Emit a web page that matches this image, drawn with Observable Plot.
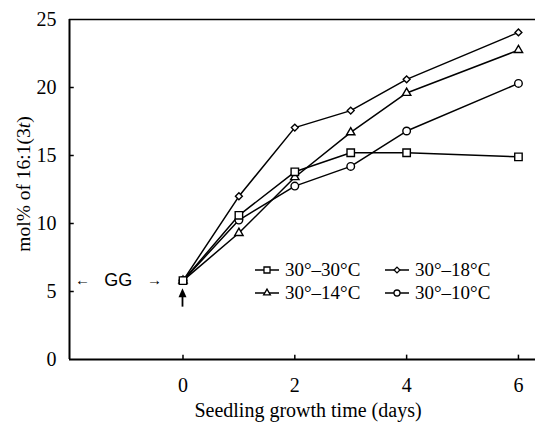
<!DOCTYPE html>
<html><head><meta charset="utf-8">
<script src="https://cdn.jsdelivr.net/npm/d3@7"></script>
<script src="https://cdn.jsdelivr.net/npm/@observablehq/plot@0.6"></script>
<style>body{margin:0;background:#fff} #chart{width:535px;height:428px}</style>
</head><body><div id="chart"></div>
<script>
// ---- data ----
const days = [0, 1, 2, 3, 4, 6];
const seriesNames = ["30°–30°C", "30°–18°C", "30°–14°C", "30°–10°C"];
const seriesSymbols = ["square", "diamond2", "triangle", "circle"];
const t30 = [5.8, 10.6, 13.8, 15.2, 15.2, 14.9];
const t18 = [5.8, 12.0, 17.05, 18.3, 20.6, 24.05];
const t14 = [5.8, 9.3, 13.4, 16.7, 19.6, 22.75];
const t10 = [5.8, 10.25, 12.75, 14.2, 16.8, 20.3];
const xTicks = [0, 2, 4, 6];
const yTicks = [0, 5, 10, 15, 20, 25];
const xTitle = "Seedling growth time (days)";
const ggLabel = ["←", "GG", "→"];
const ggX = [-1.79, -1.15, -0.5];
const ggY = 5.8;
const arrowDay = 0, arrowFrom = 3.85, arrowTo = 5.2;

const xMin = -2.03, xMax = 6.305;
const allValues = [t30, t18, t14, t10];
const rows = [];
seriesNames.forEach((s, i) => days.forEach((d, j) => rows.push({series: s, symbol: seriesSymbols[i], day: d, value: allValues[i][j]})));
const rSize = {square: 4.2, diamond2: 3.1, triangle: 3.1, circle: 3.8};
const drawOrder = ["circle", "triangle", "diamond2", "square"];

const plot = Plot.plot({
  width: 535, height: 428,
  marginLeft: 69, marginRight: 0, marginTop: 19, marginBottom: 69,
  x: {domain: [xMin, xMax]},
  y: {domain: [0, 25]},
  style: {fontFamily: "'Liberation Serif', 'Times New Roman', serif", fontSize: "20px", color: "black", background: "white"},
  marks: [
    Plot.axisX(xTicks, {tickSize: 0, tickPadding: 18, label: null, fontSize: 20}),
    Plot.axisY(yTicks, {tickSize: 0, tickPadding: 13, label: null, fontSize: 20}),
    Plot.ruleY(yTicks.slice(1, 5), {x1: xMin, x2: xMin + 0.085, stroke: "black", strokeWidth: 1.5}),
    Plot.ruleX(xTicks, {y1: 0, y2: 0.32, stroke: "black", strokeWidth: 1.5}),
    Plot.ruleX([xMin], {y1: 0, y2: 25, stroke: "black", strokeWidth: 2}),
    Plot.ruleY([0], {stroke: "black", strokeWidth: 2}),
    Plot.ruleY([25], {stroke: "black", strokeWidth: 1.6}),
    Plot.line(rows, {x: "day", y: "value", z: "series", stroke: "black", strokeWidth: 1.5}),
    ...drawOrder.map(sym => Plot.dot(rows.filter(r => r.symbol === sym), {
      x: "day", y: "value", symbol: sym, r: rSize[sym], fill: "white", stroke: "black", strokeWidth: 1.4
    }))
  ]
});
document.getElementById("chart").appendChild(plot);

const sx = plot.scale("x"), sy = plot.scale("y");
const svg = d3.select(plot);
const serif = "'Liberation Serif', 'Times New Roman', serif";

// x title
svg.append("text").attr("x", 308).attr("y", 417).attr("text-anchor", "middle")
  .attr("font-family", serif).attr("font-size", 20).attr("fill", "black").text(xTitle);

// y title with italic t
const yt = svg.append("text").attr("transform", "translate(30,184) rotate(-90)")
  .attr("text-anchor", "middle").attr("font-family", serif).attr("font-size", 19.5).attr("fill", "black");
yt.append("tspan").text("mol% of 16:1(3");
yt.append("tspan").attr("font-style", "italic").text("t");
yt.append("tspan").text(")");

// GG annotation
ggLabel.forEach((g, i) => {
  svg.append("text").attr("x", sx.apply(ggX[i])).attr("y", sy.apply(ggY)).attr("dy", "0.35em")
    .attr("text-anchor", "middle").attr("font-family", "'Liberation Sans', Arial, sans-serif")
    .attr("font-size", g === "GG" ? 18 : 15).attr("fill", "black").text(g);
});

// up arrow under day 0
const ax = sx.apply(arrowDay), ay1 = sy.apply(arrowFrom), ay2 = sy.apply(arrowTo);
svg.append("line").attr("x1", ax).attr("x2", ax).attr("y1", ay1).attr("y2", ay2 + 5)
  .attr("stroke", "black").attr("stroke-width", 1.8);
svg.append("path").attr("d", `M${ax},${ay2} L${ax - 4},${ay2 + 9} L${ax + 4},${ay2 + 9} Z`).attr("fill", "black");

// legend
const legPos = [[255, 270], [385, 270], [255, 293], [385, 293]];
const symMap = {square: d3.symbolSquare, diamond2: d3.symbolDiamond2, triangle: d3.symbolTriangle, circle: d3.symbolCircle};
const legR = {square: 3.4, diamond2: 2.6, triangle: 2.5, circle: 3.0};
seriesNames.forEach((name, i) => {
  const [lx, ly] = legPos[i];
  const g = svg.append("g");
  g.append("line").attr("x1", lx).attr("x2", lx + 24).attr("y1", ly).attr("y2", ly).attr("stroke", "black").attr("stroke-width", 1.5);
  const sym = seriesSymbols[i];
  const r = legR[sym];
  g.append("path").attr("transform", `translate(${lx + 12},${ly})`)
    .attr("d", d3.symbol(symMap[sym], Math.PI * r * r)()).attr("fill", "white").attr("stroke", "black").attr("stroke-width", 1.3);
  g.append("text").attr("x", lx + 30).attr("y", ly).attr("dy", "0.33em").attr("text-anchor", "start").attr("font-family", serif)
    .attr("font-size", 19).attr("fill", "black").text(name);
});
</script></body></html>
